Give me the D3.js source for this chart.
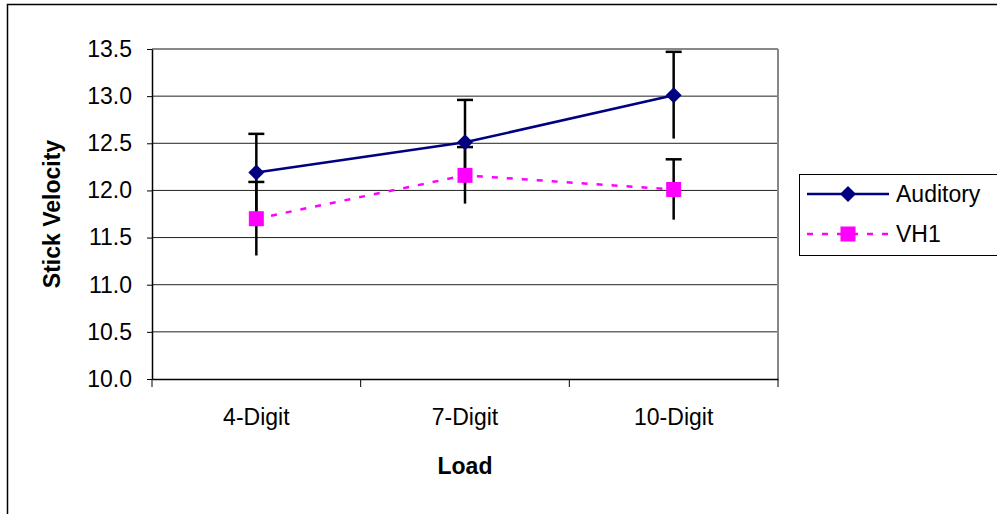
<!DOCTYPE html>
<html><head><meta charset="utf-8">
<script src="https://cdn.jsdelivr.net/npm/d3@7"></script>
<style>body{margin:0;background:#fff}svg{display:block}text{font-family:"Liberation Sans",Arial,sans-serif}</style>
</head><body><svg id="c" width="997" height="514"></svg>
<script>
const categories = ["4-Digit", "7-Digit", "10-Digit"];
const seriesNames = ["Auditory", "VH1"];
const auditory = [12.19, 12.51, 13.01];
const auditoryErr = [0.41, 0.45, 0.46];
const vh1 = [11.70, 12.16, 12.01];
const vh1Err = [0.39, 0.30, 0.32];
const yTicks = [10.0, 10.5, 11.0, 11.5, 12.0, 12.5, 13.0, 13.5];

const svg = d3.select("#c");
const L = 152, R = 778, T = 49, B = 379;
const x = d3.scaleBand().domain(categories).range([L, R]);
const y = d3.scaleLinear().domain([10, 13.5]).range([B, T]);
const fs = 23;

// outer frame
svg.append("rect").attr("x", 7.5).attr("y", 4.5).attr("width", 1000).attr("height", 520)
  .attr("fill", "#fff").attr("stroke", "#000").attr("stroke-width", 1.5);

// gridlines
svg.append("g").selectAll("line").data(yTicks.slice(1)).join("line")
  .attr("x1", L).attr("x2", R).attr("y1", d => y(d)).attr("y2", d => y(d))
  .attr("stroke", d => d === 13.5 ? "#888" : "#222").attr("stroke-width", d => d === 13.5 ? 2 : 1);
// right border
svg.append("line").attr("x1", R).attr("x2", R).attr("y1", T).attr("y2", B).attr("stroke", "#888").attr("stroke-width", 2);

// y axis
const yAxis = svg.append("g").attr("transform", `translate(${L},0)`)
  .call(d3.axisLeft(y).tickValues(yTicks).tickFormat(d3.format(".1f")).tickSize(5).tickSizeOuter(0));
yAxis.select(".domain").attr("stroke", "#000").attr("stroke-width", 1.5);
yAxis.selectAll(".tick line").attr("stroke", "#000");
yAxis.selectAll("text").attr("font-size", fs).attr("x", -20).attr("fill", "#000")
  .attr("font-family", "Liberation Sans, Arial, sans-serif");

// x axis
const xAxis = svg.append("g").attr("transform", `translate(0,${B})`)
  .call(d3.axisBottom(x).tickSize(0).tickSizeOuter(0));
xAxis.select(".domain").attr("stroke", "#000").attr("stroke-width", 1.5);
xAxis.selectAll("text").attr("font-size", fs).attr("y", 30).attr("fill", "#000")
  .attr("font-family", "Liberation Sans, Arial, sans-serif");
const bounds = categories.map(c => x(c)).concat([R]);
svg.append("g").selectAll("line").data(bounds).join("line")
  .attr("x1", d => d).attr("x2", d => d).attr("y1", B).attr("y2", B + 8)
  .attr("stroke", "#000").attr("stroke-width", 1);

// axis titles
svg.append("text").attr("x", (L + R) / 2).attr("y", 474).attr("text-anchor", "middle")
  .attr("font-size", fs).attr("font-weight", "bold").text("Load");
svg.append("text").attr("transform", `translate(60,${(T + B) / 2}) rotate(-90)`).attr("text-anchor", "middle")
  .attr("font-size", fs).attr("font-weight", "bold").text("Stick Velocity");

const cx = c => x(c) + x.bandwidth() / 2;
const series = [
  {name: seriesNames[0], vals: auditory, err: auditoryErr, color: "#000080", dash: null, shape: "diamond"},
  {name: seriesNames[1], vals: vh1, err: vh1Err, color: "#FF00FF", dash: "6,9", shape: "square"}
];

// error bars
series.forEach(s => {
  const g = svg.append("g");
  categories.forEach((c, i) => {
    const v = s.vals[i], e = s.err[i];
    g.append("line").attr("x1", cx(c)).attr("x2", cx(c)).attr("y1", y(v + e)).attr("y2", y(v - e))
      .attr("stroke", "#000").attr("stroke-width", 2.5);
    g.append("line").attr("x1", cx(c) - 8).attr("x2", cx(c) + 8).attr("y1", y(v + e)).attr("y2", y(v + e))
      .attr("stroke", "#000").attr("stroke-width", 2.5);
  });
});

const line = d3.line().x((d, i) => cx(categories[i])).y(d => y(d));
function marker(g, shape, color, px, py) {
  if (shape === "diamond") {
    g.append("path").attr("d", `M${px},${py - 8}L${px + 8},${py}L${px},${py + 8}L${px - 8},${py}Z`).attr("fill", color);
  } else {
    g.append("rect").attr("x", px - 7.5).attr("y", py - 7.5).attr("width", 15).attr("height", 15).attr("fill", color);
  }
}
series.forEach(s => {
  svg.append("path").datum(s.vals).attr("d", line).attr("fill", "none")
    .attr("stroke", s.color).attr("stroke-width", 2.5).attr("stroke-dasharray", s.dash);
});
series.forEach(s => {
  const g = svg.append("g");
  s.vals.forEach((v, i) => marker(g, s.shape, s.color, cx(categories[i]), y(v)));
});

// legend
const lg = svg.append("g");
lg.append("rect").attr("x", 799.5).attr("y", 174.5).attr("width", 210).attr("height", 81)
  .attr("fill", "#fff").attr("stroke", "#000").attr("stroke-width", 1);
series.forEach((s, i) => {
  const ly = 194 + i * 40;
  lg.append("line").attr("x1", 807).attr("x2", 889).attr("y1", ly).attr("y2", ly)
    .attr("stroke", s.color).attr("stroke-width", 2.5).attr("stroke-dasharray", s.dash);
  marker(lg, s.shape, s.color, 848, ly);
  lg.append("text").attr("x", 896).attr("y", ly + 8).attr("font-size", fs).text(s.name);
});
</script></body></html>
